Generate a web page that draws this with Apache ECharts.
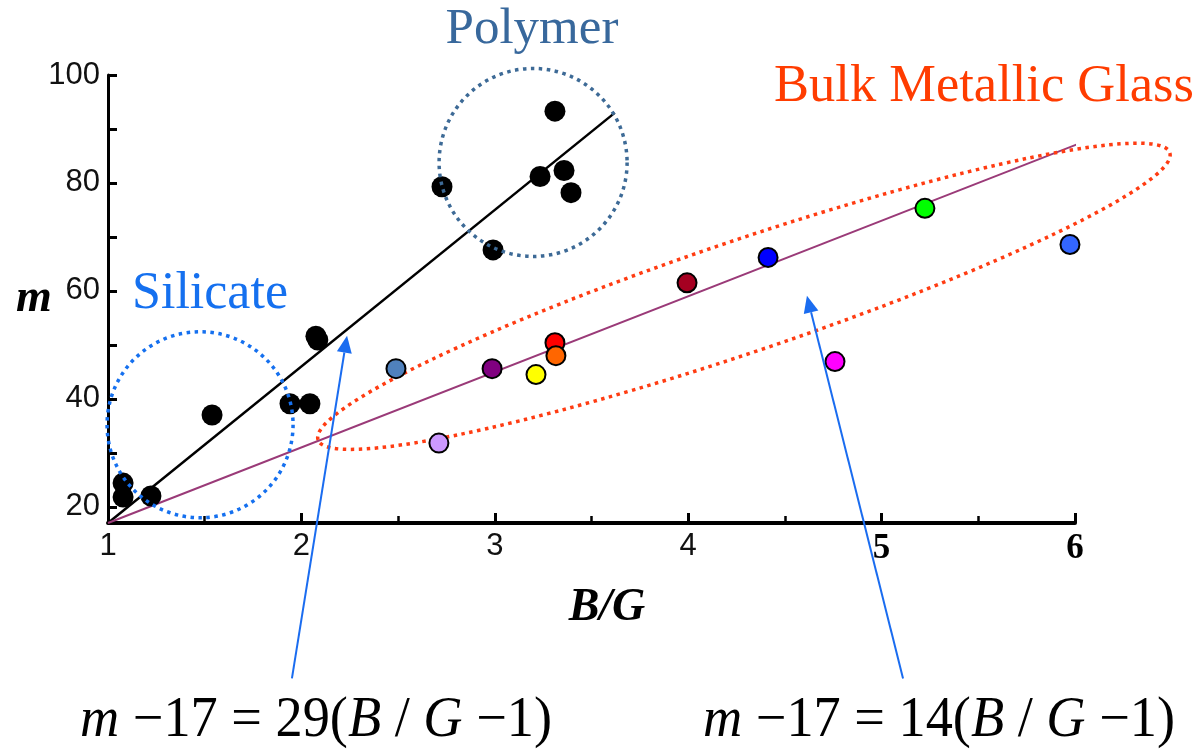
<!DOCTYPE html>
<html>
<head>
<meta charset="utf-8">
<script src="https://cdn.jsdelivr.net/npm/echarts@6/dist/echarts.min.js"></script>
<style>
  html, body { margin: 0; padding: 0; background: #fff; }
  #chart { width: 1200px; height: 752px; }
</style>
</head>
<body>
<div id="chart"></div>
<script>
// Fragility index m versus Poisson-type ratio B/G

// Silicate and polymer glasses (black markers)
const glassBG = [1.078, 1.078, 1.222, 1.538, 1.941, 2.044, 2.075, 2.085,
                 2.727, 2.991, 3.234, 3.311, 3.358, 3.394];
const glassM  = [24.4, 21.8, 22.0, 37.0, 39.1, 39.1, 51.6, 50.9,
                 79.3, 67.6, 81.2, 93.3, 82.3, 78.2];

// Bulk metallic glasses (coloured markers)
const bmgBG = [2.489, 2.711, 2.986, 3.213, 3.311, 3.316, 3.994, 4.413, 4.759, 5.224, 5.974];
const bmgM  = [45.6, 31.8, 45.6, 44.5, 50.4, 48.0, 61.5, 66.2, 46.9, 75.3, 68.6];
const bmgColors = ['#4f81bd', '#cc99ff', '#800080', '#ffff00', '#ff0000', '#ff6600',
                   '#a50021', '#0000ff', '#ff00ff', '#00ff00', '#3366ff'];

// Linear fits: m - 17 = k (B/G - 1)
const fitOffset = 17;
const glassFit = { slope: 29, bgEnd: 3.62 };
const bmgFit   = { slope: 14, bgEnd: 6.58 };

// Axis ticks
const yLabelValues = [20, 40, 60, 80, 100];
const yTickValues  = [20, 30, 40, 50, 60, 70, 80, 90, 100];

// Group annotations (data coordinates)
const silicateCenter = [1.476, 35.2];
const polymerCenter  = [3.198, 83.8];
const bmgTipLeft     = [2.086, 32.4];
const bmgTipRight    = [6.49, 85.6];
const arrowGlass = { from: [1.951, -11.8], to: [2.236, 51.7] };
const arrowBMG   = { from: [5.111, -11.8], to: [4.614, 59.1] };

const SERIF = '"Liberation Serif", "Times New Roman", serif';
const SANS = '"Liberation Sans", Arial, sans-serif';

function fitLine(fit) {
  return [[1, fitOffset], [fit.bgEnd, fitOffset + fit.slope * (fit.bgEnd - 1)]];
}

const chart = echarts.init(document.getElementById('chart'));

chart.setOption({
  animation: false,
  backgroundColor: '#ffffff',
  grid: { left: 108, right: 125, top: 75, bottom: 229 },
  xAxis: {
    type: 'value', min: 1, max: 6, interval: 1,
    name: 'B/G', nameLocation: 'middle', nameGap: 85,
    nameMoveOverlap: false,
    nameTextStyle: {
      fontFamily: SERIF, fontSize: 46, fontWeight: 'bold', fontStyle: 'italic',
      color: '#000', align: 'center', verticalAlign: 'middle', padding: [0, 0, 0, 31]
    },
    axisLine: { lineStyle: { color: '#000', width: 4 } },
    axisTick: { inside: true, length: 10, lineStyle: { color: '#000', width: 3 } },
    minorTick: { show: true, splitNumber: 2, length: 7, lineStyle: { color: '#000', width: 2.5 } },
    splitLine: { show: false },
    axisLabel: {
      margin: 8,
      formatter: v => (v >= 5 ? '{b|' + v + '}' : '{s|' + v + '}'),
      rich: {
        s: { fontFamily: SANS, fontSize: 31, color: '#111' },
        b: { fontFamily: SERIF, fontSize: 35, fontWeight: 'bold', color: '#000' }
      }
    }
  },
  yAxis: {
    type: 'value', min: 17, max: 100,
    name: 'm', nameLocation: 'middle', nameGap: 74, nameRotate: 0,
    nameMoveOverlap: false,
    nameTextStyle: {
      fontFamily: SERIF, fontSize: 46, fontWeight: 'bold', fontStyle: 'italic',
      color: '#000', align: 'center', verticalAlign: 'middle'
    },
    axisLine: { show: true, lineStyle: { color: '#000', width: 3 } },
    axisTick: { inside: true, length: 9, customValues: yTickValues, lineStyle: { color: '#000', width: 3 } },
    splitLine: { show: false },
    axisLabel: {
      customValues: yLabelValues, margin: 8,
      fontFamily: SANS, fontSize: 31, color: '#111'
    }
  },
  series: [
    {
      type: 'line', data: fitLine(glassFit), clip: false, symbol: 'none', z: 1,
      lineStyle: { color: '#000', width: 2.5 }
    },
    {
      type: 'line', data: fitLine(bmgFit), clip: false, symbol: 'none', z: 1,
      lineStyle: { color: '#9a3a78', width: 2 }
    },
    {
      type: 'scatter', symbolSize: 21, z: 3,
      data: glassBG.map((b, i) => [b, glassM[i]]),
      itemStyle: { color: '#000', opacity: 1 }
    },
    {
      type: 'scatter', symbolSize: 19, z: 3,
      data: bmgBG.map((b, i) => ({
        value: [b, bmgM[i]],
        itemStyle: { color: bmgColors[i] }
      })),
      itemStyle: { borderColor: '#000', borderWidth: 2, opacity: 1 }
    }
  ]
});

// Annotations: group outlines, arrows and labels
const px = p => chart.convertToPixel({ gridIndex: 0 }, p);
const dotted = (color) => ({ fill: 'none', stroke: color, lineWidth: 3.5, lineDash: [3.5, 4.5], lineCap: 'butt' });

function arrowShapes(a, color) {
  const p0 = px(a.from), p1 = px(a.to);
  const ang = Math.atan2(p1[1] - p0[1], p1[0] - p0[0]);
  const L = 17, W = 7.5;
  const c = Math.cos(ang), s = Math.sin(ang);
  const base = [p1[0] - L * c, p1[1] - L * s];
  return [
    { type: 'line', z: 5, shape: { x1: p0[0], y1: p0[1], x2: base[0], y2: base[1] },
      style: { stroke: color, lineWidth: 2 } },
    { type: 'polygon', z: 5,
      shape: { points: [p1, [base[0] + W * s, base[1] - W * c], [base[0] - W * s, base[1] + W * c]] },
      style: { fill: color } }
  ];
}

const sc = px(silicateCenter), pc = px(polymerCenter);
const t1 = px(bmgTipLeft), t2 = px(bmgTipRight);
const ellCx = (t1[0] + t2[0]) / 2, ellCy = (t1[1] + t2[1]) / 2;
const ellRx = Math.hypot(t2[0] - t1[0], t2[1] - t1[1]) / 2;
const ellRot = -Math.atan2(t2[1] - t1[1], t2[0] - t1[0]);

const eqRich = {
  i: { fontFamily: SERIF, fontSize: 56, fontStyle: 'italic', fill: '#000' },
  r: { fontFamily: SERIF, fontSize: 56, fill: '#000' }
};
const eqText = k => '{i|m}{r| \u221217 = ' + k + '(}{i|B}{r| / }{i|G}{r| \u22121)}';

chart.setOption({
  graphic: [
    { type: 'circle', z: 4, shape: { cx: sc[0], cy: sc[1], r: 93 }, style: dotted('#1570ef') },
    { type: 'circle', z: 4, shape: { cx: pc[0], cy: pc[1], r: 94 }, style: dotted('#3d6a96') },
    { type: 'ellipse', z: 2, x: ellCx, y: ellCy, rotation: ellRot,
      shape: { cx: 0, cy: 0, rx: ellRx, ry: 56 }, style: dotted('#ff3c12') },
    ...arrowShapes(arrowGlass, '#1a6cf0'),
    ...arrowShapes(arrowBMG, '#1a6cf0'),
    { type: 'text', z: 6, x: 532, y: 30,
      style: { text: 'Polymer', fontFamily: SERIF, fontSize: 51, fill: '#38689c', align: 'center', verticalAlign: 'middle' } },
    { type: 'text', z: 6, x: 210, y: 294,
      style: { text: 'Silicate', fontFamily: SERIF, fontSize: 52, fill: '#1570ef', align: 'center', verticalAlign: 'middle' } },
    { type: 'text', z: 6, x: 984, y: 87,
      style: { text: 'Bulk Metallic Glass', fontFamily: SERIF, fontSize: 52.5, fill: '#ff3c00', align: 'center', verticalAlign: 'middle' } },
    { type: 'text', z: 6, x: 316, y: 721, scaleX: 0.97,
      style: { text: eqText(29), rich: eqRich, align: 'center', verticalAlign: 'middle' } },
    { type: 'text', z: 6, x: 939, y: 721, scaleX: 0.97,
      style: { text: eqText(14), rich: eqRich, align: 'center', verticalAlign: 'middle' } }
  ]
});
</script>
</body>
</html>
